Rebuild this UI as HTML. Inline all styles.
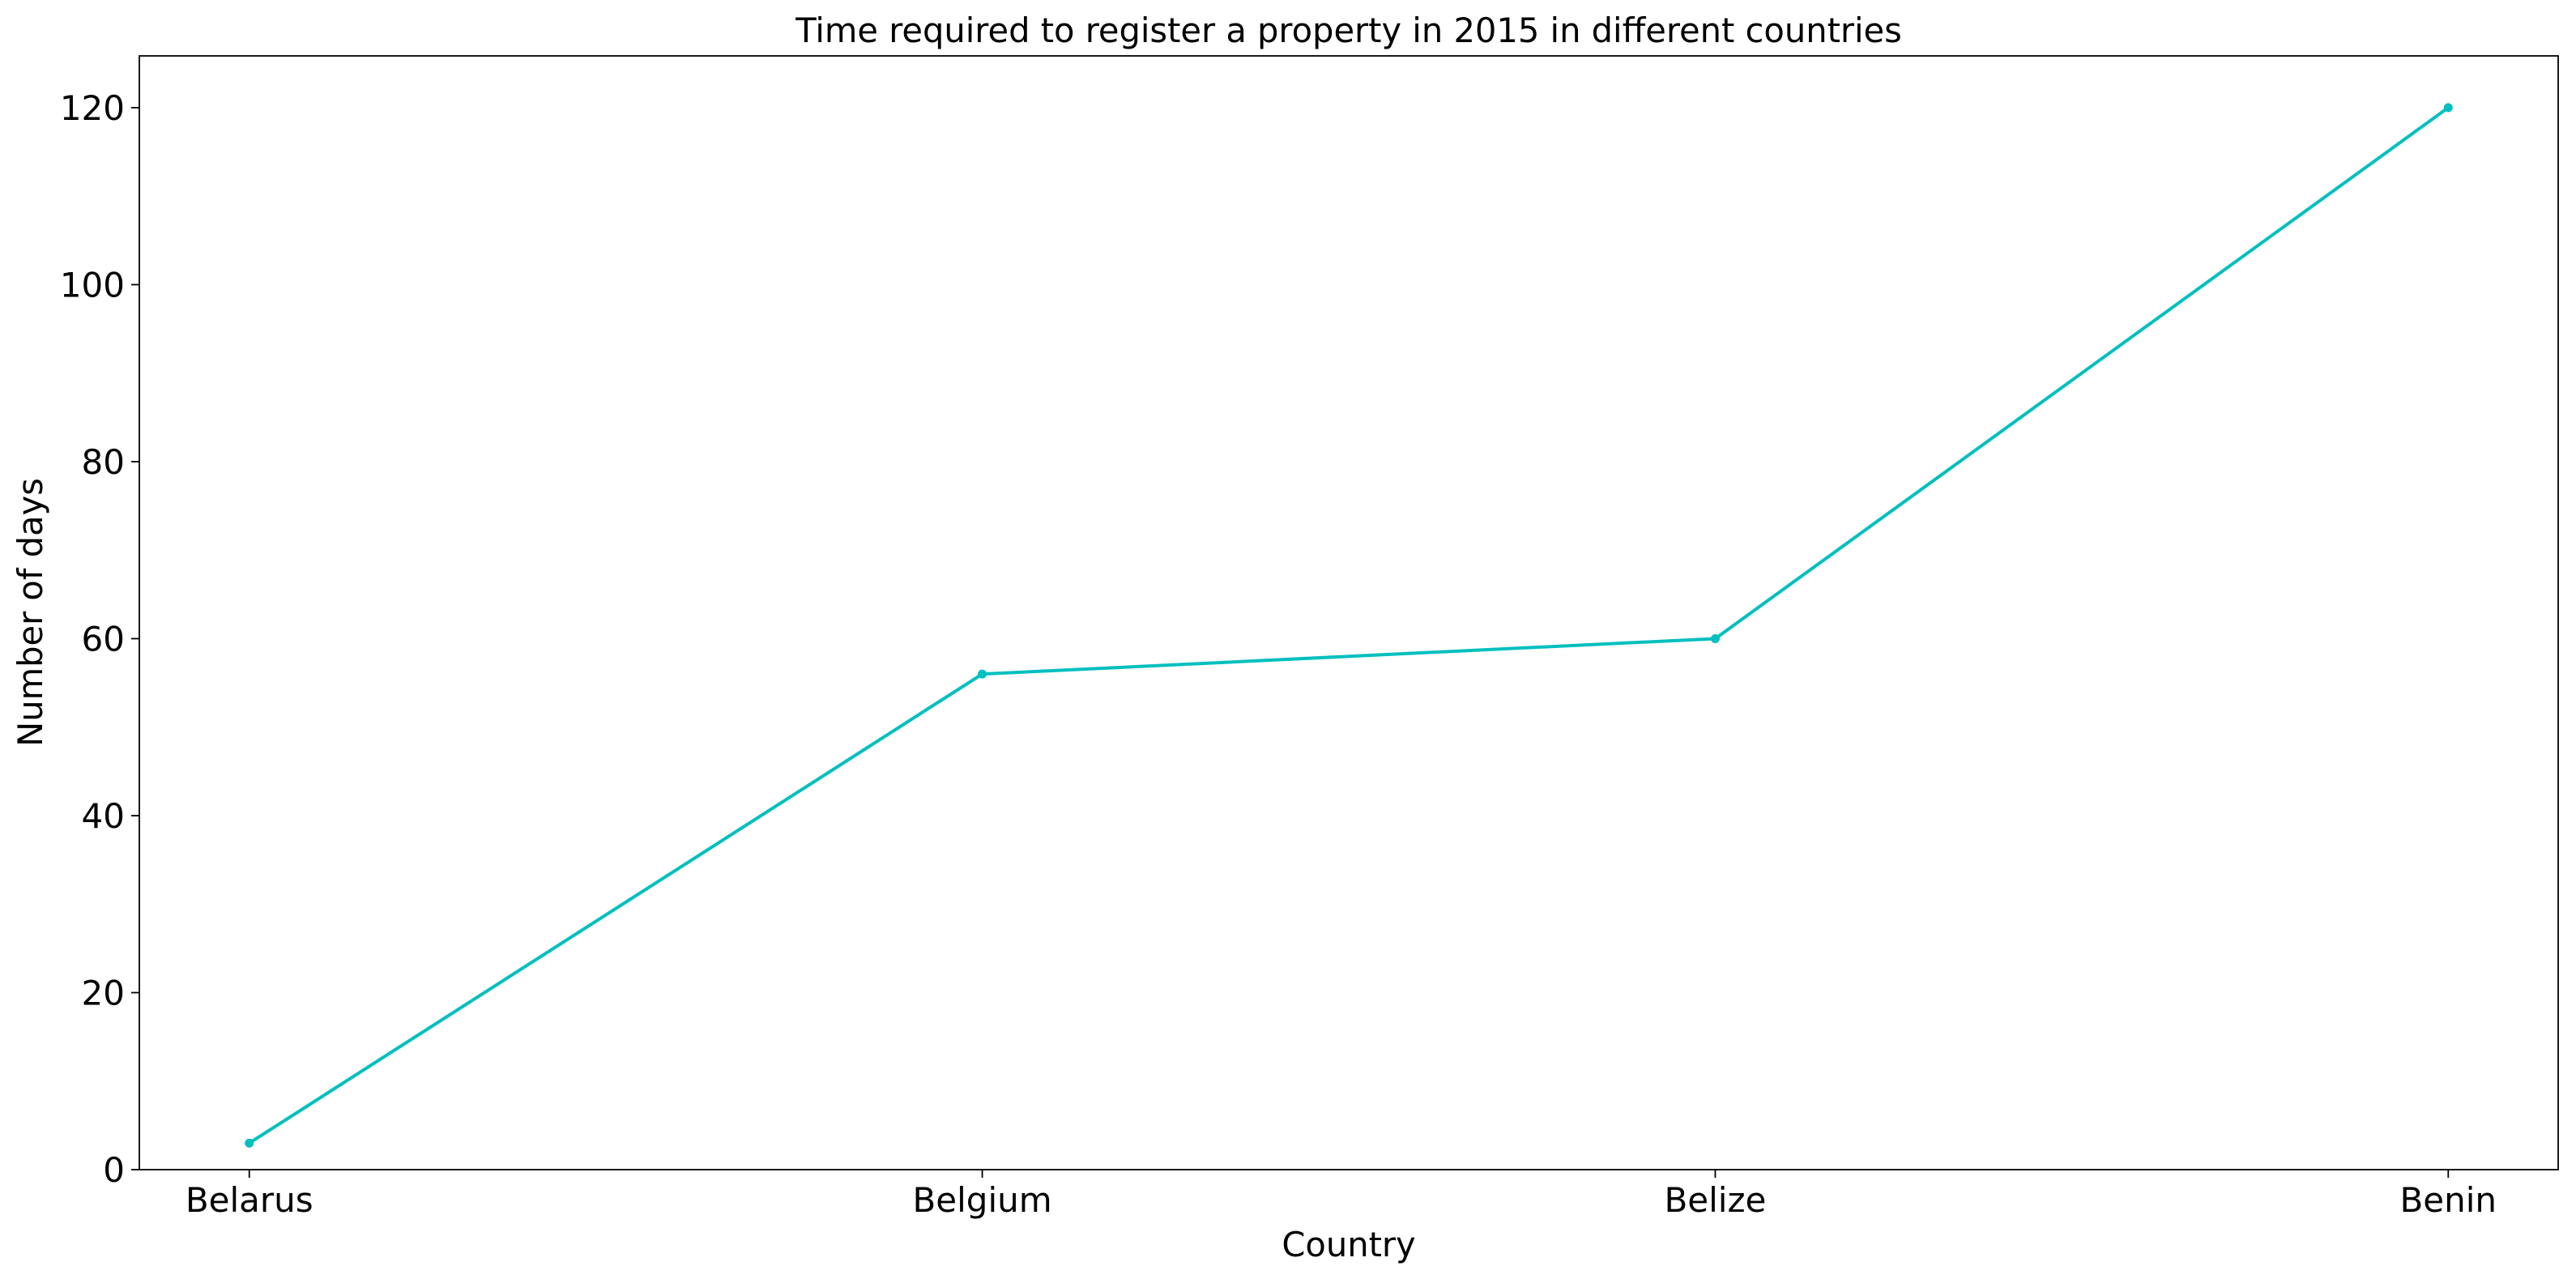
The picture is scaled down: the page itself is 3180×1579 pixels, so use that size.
<!DOCTYPE html>
<html><head><meta charset="utf-8"><style>
html,body{margin:0;padding:0;background:#fff;}
svg{display:block;font-family:"DejaVu Sans","Liberation Sans",sans-serif;}
</style></head><body>
<svg id="chart" width="3180" height="1579" viewBox="0 0 3180 1579" xmlns="http://www.w3.org/2000/svg">
<rect width="3180" height="1579" fill="#fff"/>
<text x="1665" y="52" font-size="41.6" text-anchor="middle" fill="#000">Time required to register a property in 2015 in different countries</text>
<g id="plot"></g>
<text x="1665" y="1551" font-size="41.6" text-anchor="middle" fill="#000">Country</text>
<text x="0" y="0" font-size="41.6" text-anchor="middle" fill="#000" transform="translate(52,756) rotate(-90)">Number of days</text>
</svg>
<script>
const categories = ["Belarus","Belgium","Belize","Benin"];
const values = [3, 56, 60, 120];
const yTicks = [0,20,40,60,80,100,120];

const L=172,R=3158,T=69,B=1444;
const xMin=-0.15,xMax=3.15,yMin=0,yMax=125.85;
const xs=i=>L+(i-xMin)/(xMax-xMin)*(R-L);
const ys=v=>B-(v-yMin)/(yMax-yMin)*(B-T);
const NS="http://www.w3.org/2000/svg";
const g=document.getElementById('plot');
function mk(tag,attrs){const e=document.createElementNS(NS,tag);for(const k in attrs)e.setAttribute(k,attrs[k]);g.appendChild(e);return e;}

yTicks.forEach(v=>{
  const t=mk('line',{x1:L-10,x2:L,y1:ys(v),y2:ys(v),stroke:'#000','stroke-width':1.8});
  
  
  const lb=mk('text',{x:L-18,y:ys(v)+15,'font-size':42,'text-anchor':'end',fill:'#000'});
  lb.textContent=v;
  
  
});
categories.forEach((c,i)=>{
  const t=mk('line',{x1:xs(i),x2:xs(i),y1:B,y2:B+10,stroke:'#000','stroke-width':1.8});
  
  
  const lb=mk('text',{x:xs(i),y:B+52,'font-size':42,'text-anchor':'middle',fill:'#000'});
  lb.textContent=c;
  
  
});
const pts=values.map((v,i)=>xs(i)+','+ys(v)).join(' ');
const line=mk('polyline',{points:pts,fill:'none',stroke:'#00bfbf','stroke-width':4,'stroke-linejoin':'round'});


values.forEach((v,i)=>{
  const p=mk('circle',{cx:xs(i),cy:ys(v),r:5.5,fill:'#00bfbf'});
  
  
});
const frame=mk('rect',{x:L,y:T,width:R-L,height:B-T,fill:'none',stroke:'#000','stroke-width':1.8});


</script>
</body></html>
